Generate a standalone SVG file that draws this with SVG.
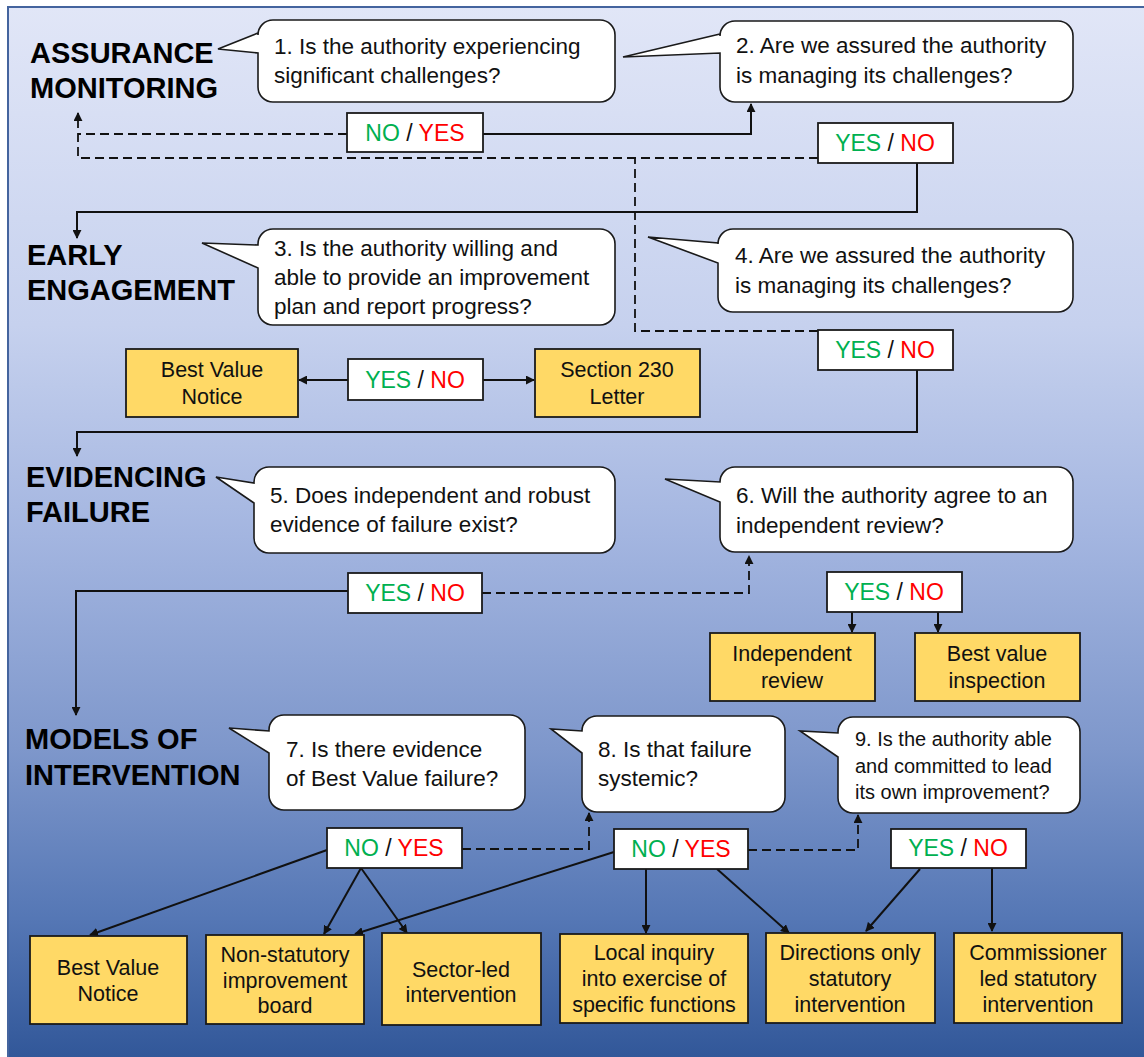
<svg xmlns="http://www.w3.org/2000/svg" width="1144" height="1057" viewBox="0 0 1144 1057">
<defs>
<linearGradient id="bg" x1="0" y1="0" x2="0" y2="1">
<stop offset="0" stop-color="#e1e6f7"/>
<stop offset="0.3" stop-color="#c6d1ee"/>
<stop offset="0.5" stop-color="#a3b5e0"/>
<stop offset="0.7" stop-color="#7e97cb"/>
<stop offset="0.86" stop-color="#5577b5"/>
<stop offset="1" stop-color="#2f5597"/>
</linearGradient>
<marker id="ah" viewBox="0 0 10 10" refX="9" refY="5" markerWidth="9" markerHeight="9" markerUnits="userSpaceOnUse" orient="auto">
<path d="M0,0 L10,5 L0,10 Z" fill="#111"/>
</marker>
</defs>
<style>
.title{font-family:"Liberation Sans",Arial,sans-serif;font-weight:bold;font-size:29px;fill:#000}
.bub{fill:#fff;stroke:#1a1a1a;stroke-width:1.6}
.bt{font-family:"Liberation Sans",Arial,sans-serif;font-size:22.5px;fill:#111}
.bt9{font-family:"Liberation Sans",Arial,sans-serif;font-size:20px;fill:#111}
.yn{fill:#fff;stroke:#1a1a1a;stroke-width:1.8}
.ynt{font-family:"Liberation Sans",Arial,sans-serif;font-size:23px;fill:#111;text-anchor:middle}
.g{fill:#00b050}
.r{fill:#ff0000}
.box{fill:#ffd966;stroke:#1a1a1a;stroke-width:1.8}
.boxt{font-family:"Liberation Sans",Arial,sans-serif;font-size:21.5px;fill:#111;text-anchor:middle}
.c{fill:none;stroke:#111;stroke-width:2}
.d{fill:none;stroke:#111;stroke-width:1.8;stroke-dasharray:9 5}
</style>

<rect x="8" y="7" width="1150" height="1060" fill="url(#bg)" stroke="#44649e" stroke-width="2"/>

<g id="titles">
<text class="title" x="30" y="63">ASSURANCE</text>
<text class="title" x="30" y="98">MONITORING</text>
<text class="title" x="27" y="265">EARLY</text>
<text class="title" x="27" y="300">ENGAGEMENT</text>
<text class="title" x="26" y="487">EVIDENCING</text>
<text class="title" x="26" y="522">FAILURE</text>
<text class="title" x="25" y="749">MODELS OF</text>
<text class="title" x="25" y="785">INTERVENTION</text>
</g>

<g id="connectors">
<path class="c" d="M483,134 H751 V104" marker-end="url(#ah)"/>
<path class="c" d="M917,163 V212 H77 V238" marker-end="url(#ah)"/>
<path class="c" d="M348,380 H299" marker-end="url(#ah)"/>
<path class="c" d="M483,380 H534" marker-end="url(#ah)"/>
<path class="c" d="M917,370 V432 H77 V456" marker-end="url(#ah)"/>
<path class="c" d="M348,591 H76 V715" marker-end="url(#ah)"/>
<path class="c" d="M852,612 V632" marker-end="url(#ah)"/>
<path class="c" d="M938,612 V632" marker-end="url(#ah)"/>
<path class="c" d="M327,850 L90,935" marker-end="url(#ah)"/>
<path class="c" d="M361,868 L324,934" marker-end="url(#ah)"/>
<path class="c" d="M361,868 L407,933" marker-end="url(#ah)"/>
<path class="c" d="M614,852 L355,934" marker-end="url(#ah)"/>
<path class="c" d="M646,869 V933" marker-end="url(#ah)"/>
<path class="c" d="M717,869 L789,933" marker-end="url(#ah)"/>
<path class="c" d="M920,869 L866,931" marker-end="url(#ah)"/>
<path class="c" d="M992,868 V931" marker-end="url(#ah)"/>
<path class="d" d="M347,134 H78"/>
<path class="d" d="M818,158 H78 V113" marker-end="url(#ah)"/>
<path class="d" d="M818,331 H635 V158"/>
<path class="d" d="M482,593 H749 V556" marker-end="url(#ah)"/>
<path class="d" d="M462,849 H589 V813" marker-end="url(#ah)"/>
<path class="d" d="M748,850 H858 V815" marker-end="url(#ah)"/>
</g>

<g id="q1">
<path class="bub" d="M273,20 H600 A15,15 0 0 1 615,35 V87 A15,15 0 0 1 600,102 H273 A15,15 0 0 1 258,87 V53 L218,49 L258,33 V35 A15,15 0 0 1 273,20 Z"/>
<text class="bt" x="274" y="54">1. Is the authority experiencing</text>
<text class="bt" x="274" y="83">significant challenges?</text>
</g>
<g id="q2">
<path class="bub" d="M735,21 H1058 A15,15 0 0 1 1073,36 V87 A15,15 0 0 1 1058,102 H735 A15,15 0 0 1 720,87 V53 L623,57 L720,34 V36 A15,15 0 0 1 735,21 Z"/>
<text class="bt" x="736" y="53">2. Are we assured the authority</text>
<text class="bt" x="736" y="83">is managing its challenges?</text>
</g>
<g id="q3">
<path class="bub" d="M273,229 H600 A15,15 0 0 1 615,244 V310 A15,15 0 0 1 600,325 H273 A15,15 0 0 1 258,310 V268 L202,243 L258,245 V244 A15,15 0 0 1 273,229 Z"/>
<text class="bt" x="274" y="256">3. Is the authority willing and</text>
<text class="bt" x="274" y="285">able to provide an improvement</text>
<text class="bt" x="274" y="314">plan and report progress?</text>
</g>
<g id="q4">
<path class="bub" d="M733,229 H1058 A15,15 0 0 1 1073,244 V297 A15,15 0 0 1 1058,312 H733 A15,15 0 0 1 718,297 V263 L648,237 L718,243 V244 A15,15 0 0 1 733,229 Z"/>
<text class="bt" x="735" y="263">4. Are we assured the authority</text>
<text class="bt" x="735" y="293">is managing its challenges?</text>
</g>
<g id="q5">
<path class="bub" d="M269,467 H600 A15,15 0 0 1 615,482 V538 A15,15 0 0 1 600,553 H269 A15,15 0 0 1 254,538 V503 L216,477 L254,483 V482 A15,15 0 0 1 269,467 Z"/>
<text class="bt" x="270" y="503">5. Does independent and robust</text>
<text class="bt" x="270" y="532">evidence of failure exist?</text>
</g>
<g id="q6">
<path class="bub" d="M735,467 H1058 A15,15 0 0 1 1073,482 V537 A15,15 0 0 1 1058,552 H735 A15,15 0 0 1 720,537 V502 L665,479 L720,482 A15,15 0 0 1 735,467 Z"/>
<text class="bt" x="736" y="503">6. Will the authority agree to an</text>
<text class="bt" x="736" y="533">independent review?</text>
</g>
<g id="q7">
<path class="bub" d="M284,715 H510 A15,15 0 0 1 525,730 V795 A15,15 0 0 1 510,810 H284 A15,15 0 0 1 269,795 V753 L229,728 L269,731 V730 A15,15 0 0 1 284,715 Z"/>
<text class="bt" x="286" y="757">7. Is there evidence</text>
<text class="bt" x="286" y="786">of Best Value failure?</text>
</g>
<g id="q8">
<path class="bub" d="M597,716 H770 A15,15 0 0 1 785,731 V797 A15,15 0 0 1 770,812 H597 A15,15 0 0 1 582,797 V753 L551,729 L582,731 A15,15 0 0 1 597,716 Z"/>
<text class="bt" x="598" y="757">8. Is that failure</text>
<text class="bt" x="598" y="786">systemic?</text>
</g>
<g id="q9">
<path class="bub" d="M853,717 H1065 A15,15 0 0 1 1080,732 V798 A15,15 0 0 1 1065,813 H853 A15,15 0 0 1 838,798 V757 L800,731 L838,733 V732 A15,15 0 0 1 853,717 Z"/>
<text class="bt9" x="855" y="746">9. Is the authority able</text>
<text class="bt9" x="855" y="773">and committed to lead</text>
<text class="bt9" x="855" y="799">its own improvement?</text>
</g>

<g id="d1"><rect class="yn" x="347" y="113" width="136" height="39"/><text class="ynt" x="415" y="141"><tspan class="g">NO</tspan> / <tspan class="r">YES</tspan></text></g>
<g id="d2"><rect class="yn" x="818" y="123" width="135" height="40"/><text class="ynt" x="885" y="151"><tspan class="g">YES</tspan> / <tspan class="r">NO</tspan></text></g>
<g id="d3"><rect class="yn" x="348" y="359" width="135" height="41"/><text class="ynt" x="415" y="388"><tspan class="g">YES</tspan> / <tspan class="r">NO</tspan></text></g>
<g id="d4"><rect class="yn" x="818" y="330" width="135" height="40"/><text class="ynt" x="885" y="358"><tspan class="g">YES</tspan> / <tspan class="r">NO</tspan></text></g>
<g id="d5"><rect class="yn" x="348" y="573" width="134" height="40"/><text class="ynt" x="415" y="601"><tspan class="g">YES</tspan> / <tspan class="r">NO</tspan></text></g>
<g id="d6"><rect class="yn" x="827" y="572" width="135" height="40"/><text class="ynt" x="894" y="600"><tspan class="g">YES</tspan> / <tspan class="r">NO</tspan></text></g>
<g id="d7"><rect class="yn" x="327" y="828" width="135" height="40"/><text class="ynt" x="394" y="856"><tspan class="g">NO</tspan> / <tspan class="r">YES</tspan></text></g>
<g id="d8"><rect class="yn" x="614" y="829" width="134" height="40"/><text class="ynt" x="681" y="857"><tspan class="g">NO</tspan> / <tspan class="r">YES</tspan></text></g>
<g id="d9"><rect class="yn" x="891" y="829" width="135" height="39"/><text class="ynt" x="958" y="856"><tspan class="g">YES</tspan> / <tspan class="r">NO</tspan></text></g>

<g id="bvn1"><rect class="box" x="126" y="349" width="172" height="68"/><text class="boxt" x="212" y="377">Best Value</text><text class="boxt" x="212" y="404">Notice</text></g>
<g id="s230"><rect class="box" x="535" y="349" width="165" height="68"/><text class="boxt" x="617" y="377">Section 230</text><text class="boxt" x="617" y="404">Letter</text></g>
<g id="indrev"><rect class="box" x="710" y="633" width="165" height="68"/><text class="boxt" x="792" y="661">Independent</text><text class="boxt" x="792" y="688">review</text></g>
<g id="bvinsp"><rect class="box" x="915" y="633" width="165" height="68"/><text class="boxt" x="997" y="661">Best value</text><text class="boxt" x="997" y="688">inspection</text></g>
<g id="bvn2"><rect class="box" x="30" y="936" width="157" height="88"/><text class="boxt" x="108" y="975">Best Value</text><text class="boxt" x="108" y="1001">Notice</text></g>
<g id="nsib"><rect class="box" x="206" y="935" width="158" height="89"/><text class="boxt" x="285" y="962">Non-statutory</text><text class="boxt" x="285" y="988">improvement</text><text class="boxt" x="285" y="1013">board</text></g>
<g id="sector"><rect class="box" x="382" y="933" width="159" height="92"/><text class="boxt" x="461" y="977">Sector-led</text><text class="boxt" x="461" y="1002">intervention</text></g>
<g id="local"><rect class="box" x="560" y="934" width="188" height="89"/><text class="boxt" x="654" y="960">Local inquiry</text><text class="boxt" x="654" y="986">into exercise of</text><text class="boxt" x="654" y="1012">specific functions</text></g>
<g id="directions"><rect class="box" x="766" y="933" width="169" height="90"/><text class="boxt" x="850" y="960">Directions only</text><text class="boxt" x="850" y="986">statutory</text><text class="boxt" x="850" y="1012">intervention</text></g>
<g id="commissioner"><rect class="box" x="954" y="933" width="168" height="90"/><text class="boxt" x="1038" y="960">Commissioner</text><text class="boxt" x="1038" y="986">led statutory</text><text class="boxt" x="1038" y="1012">intervention</text></g>
</svg>
